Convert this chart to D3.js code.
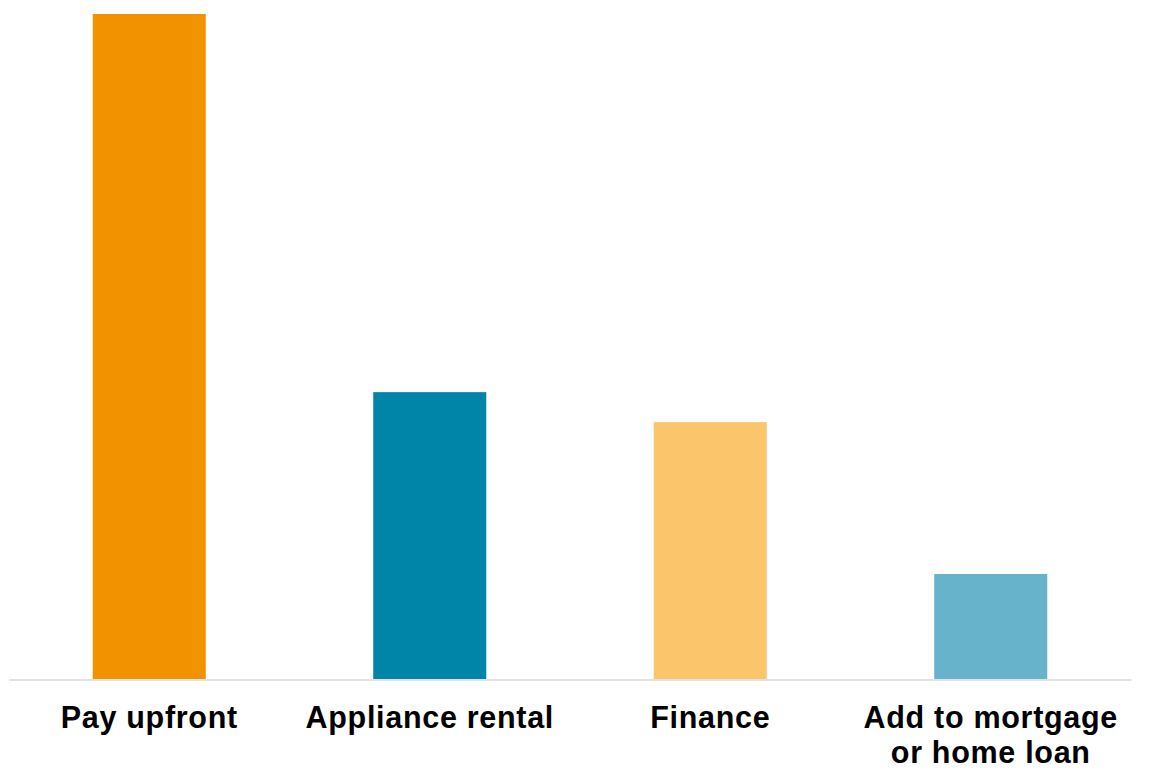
<!DOCTYPE html>
<html>
<head>
<meta charset="utf-8">
<script src="https://cdn.jsdelivr.net/npm/d3@7"></script>
<style>
  body { margin: 0; background: #fff; }
  text { font-family: "Liberation Sans", Arial, sans-serif; font-weight: bold; }
</style>
</head>
<body>
<div id="chart"></div>
<script>
// data (no axis shown, values are relative estimates)
var categories = ["Pay upfront", "Appliance rental", "Finance", "Add to mortgage\nor home loan"]
var values = [51, 22, 19.7, 8.05]
var colors = ["#F39200", "#0085A9", "#FBC56B", "#67B3CB"]

var w = 1152, h = 778
var left_margin = 9, right_margin = 21
var top_y = 14, base_y = 679

var svg = d3.select("#chart").append("svg")
  .attr("width", w)
  .attr("height", h)

var x = d3.scaleBand()
  .domain(categories)
  .range([left_margin, w - right_margin])
  .paddingInner(0.597)
  .paddingOuter(0.2985)

var y = d3.scaleLinear()
  .domain([0, d3.max(values)])
  .range([base_y, top_y])

svg.selectAll("rect.bar")
  .data(values)
  .enter().append("rect")
  .attr("class", "bar")
  .attr("x", function(d, i) { return x(categories[i]) })
  .attr("y", function(d) { return y(d) })
  .attr("width", x.bandwidth())
  .attr("height", function(d) { return y(0) - y(d) })
  .attr("fill", function(d, i) { return colors[i] })

// baseline
var x_axis = d3.axisBottom(x).tickSize(0).tickPadding(0).tickFormat("")
var ax = svg.append("g")
  .attr("transform", "translate(0," + (base_y + 0.5) + ")")
  .call(x_axis)
ax.select(".domain").attr("stroke", "#d9d9d9").attr("stroke-width", 1.6)

// category labels, split on newline
var labels = svg.selectAll("text.cat")
  .data(categories)
  .enter().append("text")
  .attr("class", "cat")
  .attr("text-anchor", "middle")
  .attr("font-size", 30.5)
  .attr("letter-spacing", 0.7)
  .attr("fill", "#000")

labels.each(function(d) {
  var t = d3.select(this)
  d.split("\n").forEach(function(line, k) {
    t.append("tspan")
      .attr("x", x(d) + x.bandwidth() / 2)
      .attr("y", 728 + k * 35)
      .text(line)
  })
})
</script>
</body>
</html>
